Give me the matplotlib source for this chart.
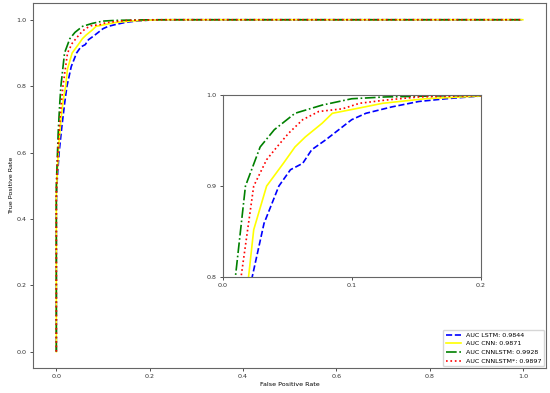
import matplotlib.pyplot as plt

# ROC 曲线数据
fpr_lstm = [0.0, 0.0, 0.002, 0.006, 0.012, 0.018, 0.0228, 0.032, 0.0435, 0.0525, 0.062, 0.069,
            0.080, 0.090, 0.100, 0.111, 0.131, 0.152, 0.173, 0.20, 0.25, 1.0]
tpr_lstm = [0.0, 0.45, 0.52, 0.60, 0.68, 0.75, 0.80, 0.859, 0.90, 0.918, 0.925, 0.940,
            0.951, 0.962, 0.973, 0.980, 0.987, 0.993, 0.996, 0.999, 1.0, 1.0]

fpr_cnn = [0.0, 0.0, 0.002, 0.005, 0.010, 0.015, 0.020, 0.024, 0.034, 0.047, 0.056, 0.064,
           0.077, 0.085, 0.103, 0.124, 0.157, 0.20, 0.24, 1.0]
tpr_cnn = [0.0, 0.47, 0.54, 0.62, 0.70, 0.76, 0.80, 0.852, 0.90, 0.925, 0.943, 0.954,
           0.969, 0.980, 0.985, 0.991, 0.996, 0.999, 1.0, 1.0]

fpr_cnnlstm = [0.0, 0.0, 0.002, 0.004, 0.007, 0.0098, 0.0176, 0.029, 0.040, 0.056, 0.077,
               0.100, 0.126, 0.18, 0.22, 1.0]
tpr_cnnlstm = [0.0, 0.50, 0.58, 0.66, 0.74, 0.80, 0.90, 0.943, 0.962, 0.980, 0.989,
               0.996, 0.998, 0.9995, 1.0, 1.0]

fpr_cnnlstm2 = [0.0, 0.0, 0.002, 0.005, 0.009, 0.0142, 0.024, 0.034, 0.042, 0.051, 0.062,
                0.0745, 0.093, 0.106, 0.126, 0.152, 0.20, 0.23, 1.0]
tpr_cnnlstm2 = [0.0, 0.48, 0.56, 0.64, 0.72, 0.80, 0.90, 0.929, 0.943, 0.958, 0.973,
                0.982, 0.985, 0.991, 0.9945, 0.998, 0.9995, 1.0, 1.0]

labels = ["AUC LSTM: 0.9844", "AUC CNN: 0.9871", "AUC CNNLSTM: 0.9928", "AUC CNNLSTM*: 0.9897"]

curves = [
    (fpr_lstm, tpr_lstm, "blue", "--"),
    (fpr_cnn, tpr_cnn, "yellow", "-"),
    (fpr_cnnlstm, tpr_cnnlstm, "green", "-."),
    (fpr_cnnlstm2, tpr_cnnlstm2, "red", ":"),
]

fs = 4.6
lw = 1.2

fig = plt.figure(figsize=(5.5, 3.93), dpi=100)
ax = fig.add_axes([0.06, 0.063, 0.933, 0.929])

for (x, y, c, ls), lab in zip(curves, labels):
    ax.plot(x, y, color=c, linestyle=ls, linewidth=lw, label=lab)

ax.set_xlabel("False Positive Rate", fontsize=fs, labelpad=2)
ax.set_ylabel("True Positive Rate", fontsize=fs, labelpad=2)
ax.tick_params(labelsize=fs, length=2.5, width=0.6, pad=2, colors="0.2")
for s in ax.spines.values():
    s.set_color("0.4")
    s.set_linewidth(0.8)
ax.legend(loc="lower right", fontsize=fs, handlelength=2.4, borderaxespad=0.3)

# 放大的子图
axins = fig.add_axes([0.405, 0.295, 0.469, 0.463])
for x, y, c, ls in curves:
    axins.plot(x, y, color=c, linestyle=ls, linewidth=lw)
axins.set_xlim(0, 0.2)
axins.set_ylim(0.8, 1.0)
axins.set_xticks([0.0, 0.1, 0.2])
axins.set_yticks([0.8, 0.9, 1.0])
axins.tick_params(labelsize=fs, length=2.5, width=0.6, pad=2, colors="0.2")
for s in axins.spines.values():
    s.set_color("0.4")
    s.set_linewidth(0.8)

fig.savefig("out.png", dpi=100)
